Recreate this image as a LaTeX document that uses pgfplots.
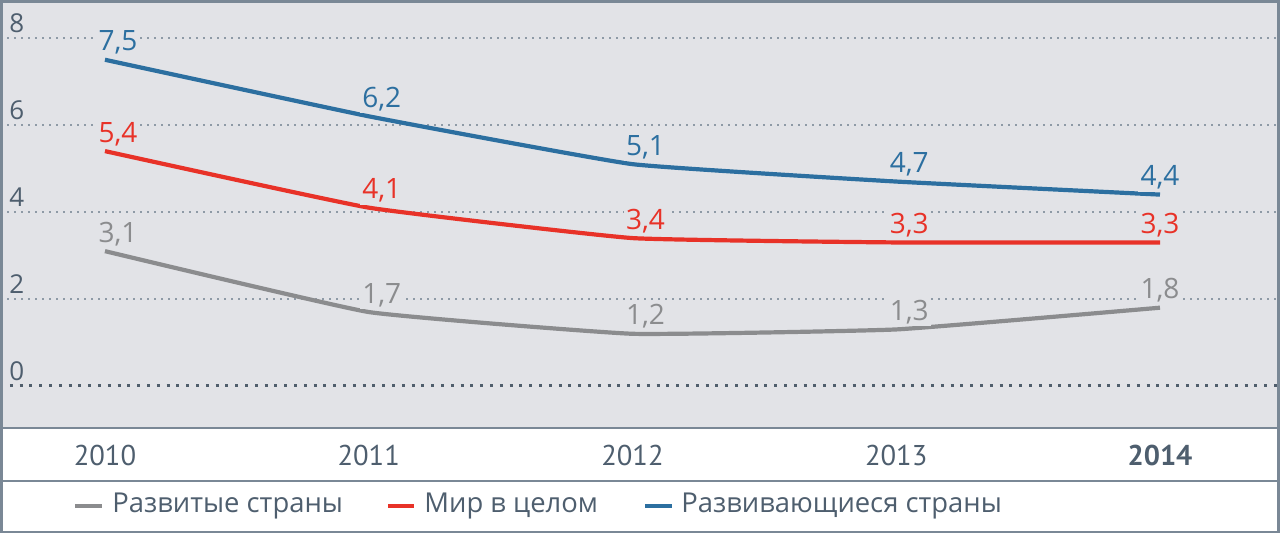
\documentclass[border=0pt]{standalone}
\usepackage{pgfplots}
\pgfplotsset{compat=1.18}
\usepackage{fontspec}
\setmainfont{Open Sans}
\newfontfamily\yearfont{PT Sans}
\definecolor{bg}{HTML}{E2E3E7}
\definecolor{bluec}{HTML}{2C6FA0}
\definecolor{redc}{HTML}{E83228}
\definecolor{grayc}{HTML}{8B8C8E}
\definecolor{tickc}{HTML}{4E5E6E}
\definecolor{framec}{HTML}{7A8896}
\definecolor{gridc}{HTML}{8E9AA6}
\definecolor{zeroc}{HTML}{505E6C}
\begin{document}
\begin{tikzpicture}
\begin{axis}[
  at={(0,0)}, anchor=south west,
  width=640bp, height=214bp, scale only axis,
  xmin=-0.398, xmax=4.455, ymin=-0.966, ymax=8.874,
  axis background/.style={fill=bg},
  axis line style={draw=none},
  xtick={0,1,2,3,4},
  xticklabels={2010,2011,2012,2013,\textbf{2014}},
  xticklabel style={anchor=center, inner sep=0pt, yshift=-13.5bp, font=\yearfont\fontsize{14.3bp}{15bp}\selectfont, text=tickc},
  ytick={2,4,6,8},
  yticklabels={2,4,6,8},
  extra y ticks={0},
  extra y tick labels={0},
  extra y tick style={grid style={zeroc, line width=1.5bp, dash pattern=on 1.5bp off 3.4bp}},
  ymajorgrids,
  grid style={gridc, line width=1.1bp, dash pattern=on 1.1bp off 2.4bp},
  major tick length=0pt,
  tick style={draw=none},
  yticklabel style={anchor=south west, inner sep=0pt, xshift=4.5bp, yshift=2.5bp, text=tickc, font=\fontsize{13bp}{13bp}\selectfont},
  /pgf/number format/assume math mode=true,
  clip=false,
  nodes near coords,
  every node near coord/.append style={anchor=base, yshift=4.5bp, xshift=6.5bp, fill=bg, inner sep=1.2bp,
     font=\fontsize{14bp}{14bp}\selectfont,
     /pgf/number format/fixed, /pgf/number format/fixed zerofill, /pgf/number format/precision=1,
     /pgf/number format/use comma, /pgf/number format/assume math mode=true},
  coordinate style/.condition={x>3.5}{xshift=-6.5bp},
]
\addplot[grayc, line width=2.1bp, smooth, tension=0.2, every node near coord/.append style={text=grayc}]
  coordinates {(0,3.1) (1,1.7) (2,1.2) (3,1.3) (4,1.8)};
\addplot[redc, line width=2.1bp, smooth, tension=0.2, every node near coord/.append style={text=redc}]
  coordinates {(0,5.4) (1,4.1) (2,3.4) (3,3.3) (4,3.3)};
\addplot[bluec, line width=2.1bp, smooth, tension=0.2, every node near coord/.append style={text=bluec}]
  coordinates {(0,7.5) (1,6.2) (2,5.1) (3,4.7) (4,4.4)};
\end{axis}
% bands and frame
\draw[framec, line width=1.4bp] (0,0) -- (640bp,0);
\draw[framec, line width=1.4bp] (0,-26.5bp) -- (640bp,-26.5bp);
\draw[framec, line width=1.4bp] (0.7bp,-52bp) rectangle (639.3bp,213.3bp);
% legend
\begin{scope}[font=\fontsize{13.7bp}{15bp}\selectfont, text=tickc]
\draw[grayc, line width=2bp] (37.5bp,-39bp) -- (51bp,-39bp);
\node[anchor=west, inner sep=0pt] at (56bp,-39bp) {Развитые страны};
\draw[redc, line width=2bp] (194bp,-39bp) -- (207bp,-39bp);
\node[anchor=west, inner sep=0pt] at (212bp,-39bp) {Мир в целом};
\draw[bluec, line width=2bp] (322.5bp,-39bp) -- (336bp,-39bp);
\node[anchor=west, inner sep=0pt] at (340.5bp,-39bp) {Развивающиеся страны};
\end{scope}
\pgfresetboundingbox
\path (0,-53bp) rectangle (640bp,214bp);
\end{tikzpicture}
\end{document}
